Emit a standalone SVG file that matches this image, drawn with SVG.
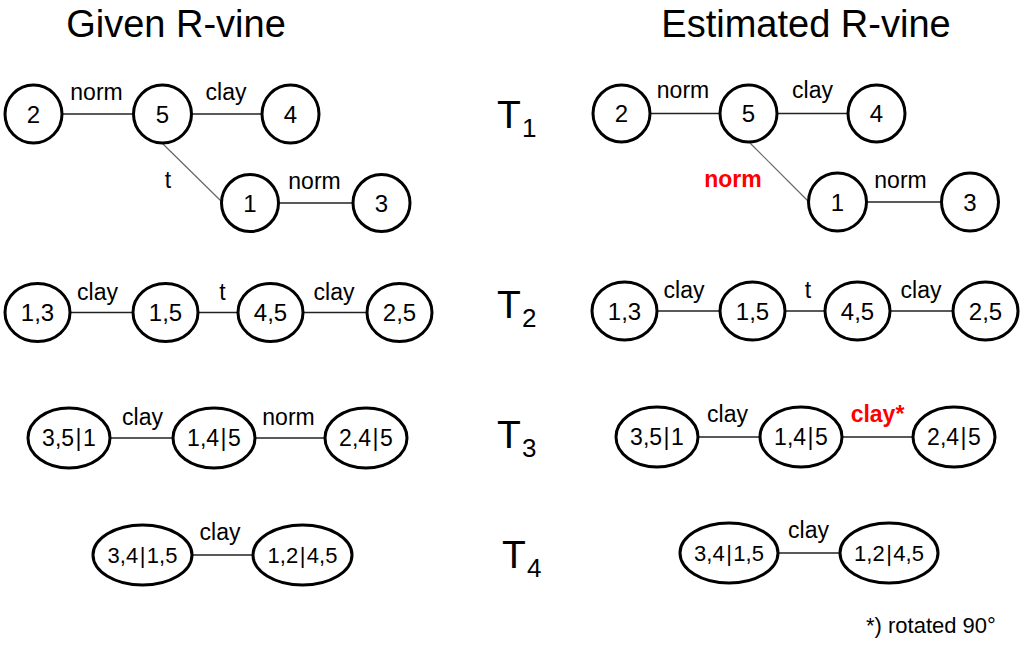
<svg xmlns="http://www.w3.org/2000/svg" width="1024" height="647" viewBox="0 0 1024 647">
<style>
text{font-family:"Liberation Sans",Arial,sans-serif;fill:#000}
.title{font-size:38px;text-anchor:middle}
.node{fill:#fff;stroke:#000;stroke-width:3}
.nl{font-size:24px;text-anchor:middle}
.nl2{font-size:23px;text-anchor:middle}
.nl3{font-size:22px;text-anchor:middle}
.el{font-size:23px;text-anchor:middle}
.red{fill:#f00;font-weight:bold}
.T{font-size:39px}
.sub{font-size:26px}
.e{stroke:#222;stroke-width:1.6}
.d{stroke:#666;stroke-width:1.2}
.fn{font-size:22px}
</style>
<rect width="1024" height="647" fill="#fff"/>
<text class="title" x="176" y="37">Given R-vine</text>
<text class="title" x="806" y="37">Estimated R-vine</text>

<g id="levels">
<text class="T" x="497" y="128">T<tspan class="sub" x="522" y="137">1</tspan></text>
<text class="T" x="497" y="318">T<tspan class="sub" x="522" y="327">2</tspan></text>
<text class="T" x="497" y="448">T<tspan class="sub" x="522" y="457">3</tspan></text>
<text class="T" x="502" y="568">T<tspan class="sub" x="527" y="577">4</tspan></text>
</g>

<g id="connectors">
<line class="e" x1="62" y1="114" x2="133" y2="114"/>
<line class="e" x1="192" y1="114" x2="262" y2="114"/>
<line class="d" x1="163" y1="144" x2="222" y2="202"/>
<line class="e" x1="279" y1="203" x2="353" y2="203"/>
<line class="e" x1="650" y1="113.5" x2="720" y2="113.5"/>
<line class="e" x1="777" y1="113.5" x2="848" y2="113.5"/>
<line class="d" x1="750" y1="143" x2="808" y2="201"/>
<line class="e" x1="867" y1="202" x2="942" y2="202"/>
<line class="e" x1="70" y1="312.5" x2="133" y2="312.5"/>
<line class="e" x1="198" y1="312.5" x2="238" y2="312.5"/>
<line class="e" x1="303" y1="312.5" x2="367" y2="312.5"/>
<line class="e" x1="657" y1="311" x2="720" y2="311"/>
<line class="e" x1="785" y1="311" x2="825" y2="311"/>
<line class="e" x1="890" y1="311" x2="953" y2="311"/>
<line class="e" x1="110" y1="438" x2="173" y2="438"/>
<line class="e" x1="255" y1="438" x2="325" y2="438"/>
<line class="e" x1="698" y1="437" x2="760" y2="437"/>
<line class="e" x1="842" y1="437" x2="913" y2="437"/>
<line class="e" x1="192" y1="555" x2="253" y2="555"/>
<line class="e" x1="778" y1="553" x2="840" y2="553"/>
<text class="el" x="96.5" y="100">norm</text>
<text class="el" x="226" y="100">clay</text>
<text class="el" x="168" y="188">t</text>
<text class="el" x="314.5" y="189">norm</text>
<text class="el" x="683" y="98">norm</text>
<text class="el" x="812.5" y="98">clay</text>
<text class="el red" x="733" y="187">norm</text>
<text class="el" x="900.5" y="188">norm</text>
<text class="el" x="97.5" y="300">clay</text>
<text class="el" x="222.5" y="300">t</text>
<text class="el" x="334" y="300">clay</text>
<text class="el" x="684" y="298">clay</text>
<text class="el" x="808" y="298">t</text>
<text class="el" x="921" y="298">clay</text>
<text class="el" x="142.5" y="425">clay</text>
<text class="el" x="288.5" y="425">norm</text>
<text class="el" x="727.5" y="422">clay</text>
<text class="el red" x="877.5" y="422">clay*</text>
<text class="el" x="220" y="540">clay</text>
<text class="el" x="808.5" y="538">clay</text>
</g>

<g id="L_2"><ellipse class="node" cx="33.5" cy="114" rx="28.5" ry="29"/><text class="nl" x="33.5" y="122.5">2</text></g>
<g id="L_5"><ellipse class="node" cx="162.5" cy="114" rx="29" ry="29"/><text class="nl" x="162.5" y="122.5">5</text></g>
<g id="L_4"><ellipse class="node" cx="290.5" cy="114" rx="28.5" ry="29"/><text class="nl" x="290.5" y="122.5">4</text></g>
<g id="L_1"><ellipse class="node" cx="250" cy="203" rx="28.5" ry="28.5"/><text class="nl" x="250" y="211.5">1</text></g>
<g id="L_3"><ellipse class="node" cx="381.5" cy="203" rx="28.5" ry="28.5"/><text class="nl" x="381.5" y="211.5">3</text></g>

<g id="R_2"><ellipse class="node" cx="621.5" cy="113.5" rx="28.5" ry="28.5"/><text class="nl" x="621.5" y="122">2</text></g>
<g id="R_5"><ellipse class="node" cx="748.5" cy="113.5" rx="28.5" ry="28.5"/><text class="nl" x="748.5" y="122">5</text></g>
<g id="R_4"><ellipse class="node" cx="876.5" cy="113.5" rx="28.5" ry="28.5"/><text class="nl" x="876.5" y="122">4</text></g>
<g id="R_1"><ellipse class="node" cx="837.5" cy="202" rx="29" ry="29"/><text class="nl" x="837.5" y="210.5">1</text></g>
<g id="R_3"><ellipse class="node" cx="970" cy="202" rx="28.5" ry="29"/><text class="nl" x="970" y="210.5">3</text></g>

<g id="L_13"><ellipse class="node" cx="37.5" cy="312.5" rx="32.5" ry="29"/><text class="nl" x="37.5" y="321">1,3</text></g>
<g id="L_15"><ellipse class="node" cx="165.5" cy="312.5" rx="32.5" ry="29"/><text class="nl" x="165.5" y="321">1,5</text></g>
<g id="L_45"><ellipse class="node" cx="270.5" cy="312.5" rx="32.5" ry="29"/><text class="nl" x="270.5" y="321">4,5</text></g>
<g id="L_25"><ellipse class="node" cx="399.5" cy="312.5" rx="32.5" ry="29"/><text class="nl" x="399.5" y="321">2,5</text></g>

<g id="R_13"><ellipse class="node" cx="624.5" cy="311" rx="32.5" ry="29"/><text class="nl" x="624.5" y="319.5">1,3</text></g>
<g id="R_15"><ellipse class="node" cx="752.5" cy="311" rx="32.5" ry="29"/><text class="nl" x="752.5" y="319.5">1,5</text></g>
<g id="R_45"><ellipse class="node" cx="857.5" cy="311" rx="32.5" ry="29"/><text class="nl" x="857.5" y="319.5">4,5</text></g>
<g id="R_25"><ellipse class="node" cx="985.5" cy="311" rx="32.5" ry="29"/><text class="nl" x="985.5" y="319.5">2,5</text></g>

<g id="L_35_1"><ellipse class="node" cx="69" cy="438" rx="41" ry="30"/><text class="nl2" x="69" y="446">3,5<tspan dx="1.5">|</tspan><tspan dx="1.5">1</tspan></text></g>
<g id="L_14_5"><ellipse class="node" cx="214" cy="438" rx="41" ry="30"/><text class="nl2" x="214" y="446">1,4<tspan dx="1.5">|</tspan><tspan dx="1.5">5</tspan></text></g>
<g id="L_24_5"><ellipse class="node" cx="366" cy="438" rx="41" ry="30"/><text class="nl2" x="366" y="446">2,4<tspan dx="1.5">|</tspan><tspan dx="1.5">5</tspan></text></g>

<g id="R_35_1"><ellipse class="node" cx="657" cy="437" rx="41" ry="30"/><text class="nl2" x="657" y="445">3,5<tspan dx="1.5">|</tspan><tspan dx="1.5">1</tspan></text></g>
<g id="R_14_5"><ellipse class="node" cx="801" cy="437" rx="41" ry="30"/><text class="nl2" x="801" y="445">1,4<tspan dx="1.5">|</tspan><tspan dx="1.5">5</tspan></text></g>
<g id="R_24_5"><ellipse class="node" cx="954" cy="437" rx="41" ry="30"/><text class="nl2" x="954" y="445">2,4<tspan dx="1.5">|</tspan><tspan dx="1.5">5</tspan></text></g>

<g id="L_34_15"><ellipse class="node" cx="142.5" cy="555" rx="49.5" ry="30"/><text class="nl3" x="142.5" y="563">3,4<tspan dx="1.5">|</tspan><tspan dx="1.5">1,5</tspan></text></g>
<g id="L_12_45"><ellipse class="node" cx="302.5" cy="555" rx="49.5" ry="30"/><text class="nl3" x="302.5" y="563">1,2<tspan dx="1.5">|</tspan><tspan dx="1.5">4,5</tspan></text></g>

<g id="R_34_15"><ellipse class="node" cx="729" cy="553" rx="49" ry="30"/><text class="nl3" x="729" y="561">3,4<tspan dx="1.5">|</tspan><tspan dx="1.5">1,5</tspan></text></g>
<g id="R_12_45"><ellipse class="node" cx="889" cy="553" rx="49" ry="30"/><text class="nl3" x="889" y="561">1,2<tspan dx="1.5">|</tspan><tspan dx="1.5">4,5</tspan></text></g>

<text class="fn" x="866" y="633">*) rotated 90°</text>
</svg>
